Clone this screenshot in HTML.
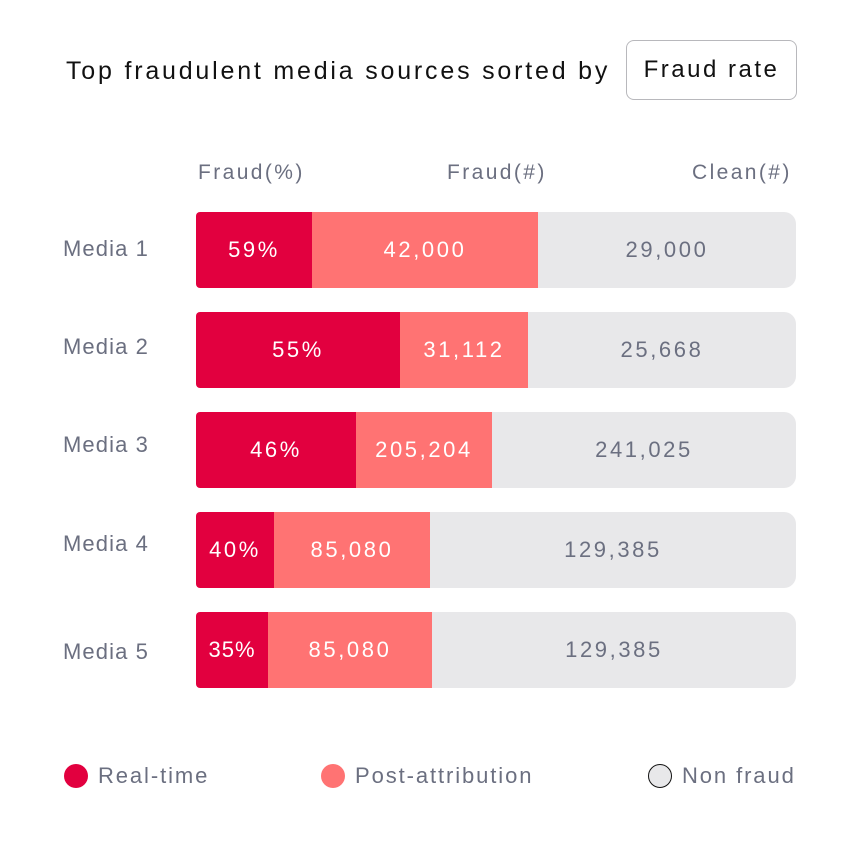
<!DOCTYPE html>
<html><head><meta charset="utf-8"><style>
*{margin:0;padding:0;box-sizing:border-box}
body{width:860px;height:860px;background:#fff;font-family:"Liberation Sans",sans-serif;position:relative;overflow:hidden}
.a{position:absolute;white-space:nowrap}
.t{left:66px;top:57px;font-size:25px;color:#111;letter-spacing:2.8px}
.btn{left:626px;top:40px;width:171px;height:60px;border:1.5px solid #b8b8bc;border-radius:8px;font-size:24px;color:#111;text-align:center;line-height:57px;letter-spacing:2.5px}
.h{top:161px;font-size:21px;color:#6b6f80;letter-spacing:2.4px}
.lab{left:63px;font-size:22px;color:#6b6f80;letter-spacing:1.1px}
.bar{left:196px;width:600px;height:76px;border-radius:4px 12px 12px 4px;overflow:hidden;display:flex;font-size:22px;letter-spacing:2.6px}
.bar div{height:100%;display:flex;align-items:center;justify-content:center}
.r{background:#e2003f;color:#fff}.p{background:#ff7373;color:#fff}.g{background:#e8e8ea;color:#6b6f80;flex:1}
.dot{width:24px;height:24px;border-radius:50%;top:764px}
.lg{top:763px;font-size:22px;color:#6b6f80;letter-spacing:1.9px}
</style></head><body>
<div class="a t">Top fraudulent media sources sorted by</div>
<div class="a btn">Fraud rate</div>
<div class="a h" style="left:198px">Fraud(%)</div>
<div class="a h" style="left:447px">Fraud(#)</div>
<div class="a h" style="left:692px">Clean(#)</div>

<div class="a lab" style="top:236px">Media 1</div>
<div class="a bar" style="top:212px"><div class="r" style="width:116px">59%</div><div class="p" style="width:226px">42,000</div><div class="g">29,000</div></div>
<div class="a lab" style="top:334px">Media 2</div>
<div class="a bar" style="top:312px"><div class="r" style="width:204px">55%</div><div class="p" style="width:128px">31,112</div><div class="g">25,668</div></div>
<div class="a lab" style="top:432px">Media 3</div>
<div class="a bar" style="top:412px"><div class="r" style="width:160px">46%</div><div class="p" style="width:136px">205,204</div><div class="g">241,025</div></div>
<div class="a lab" style="top:531px">Media 4</div>
<div class="a bar" style="top:512px"><div class="r" style="width:78px">40%</div><div class="p" style="width:156px">85,080</div><div class="g">129,385</div></div>
<div class="a lab" style="top:639px">Media 5</div>
<div class="a bar" style="top:612px"><div class="r" style="width:72px;letter-spacing:1px">35%</div><div class="p" style="width:164px">85,080</div><div class="g">129,385</div></div>

<div class="a dot" style="left:64px;background:#e2003f"></div>
<div class="a lg" style="left:98px">Real-time</div>
<div class="a dot" style="left:321px;background:#ff7373"></div>
<div class="a lg" style="left:355px">Post-attribution</div>
<div class="a dot" style="left:648px;background:#e8e8ea;border:1.5px solid #111"></div>
<div class="a lg" style="left:682px">Non fraud</div>
</body></html>
